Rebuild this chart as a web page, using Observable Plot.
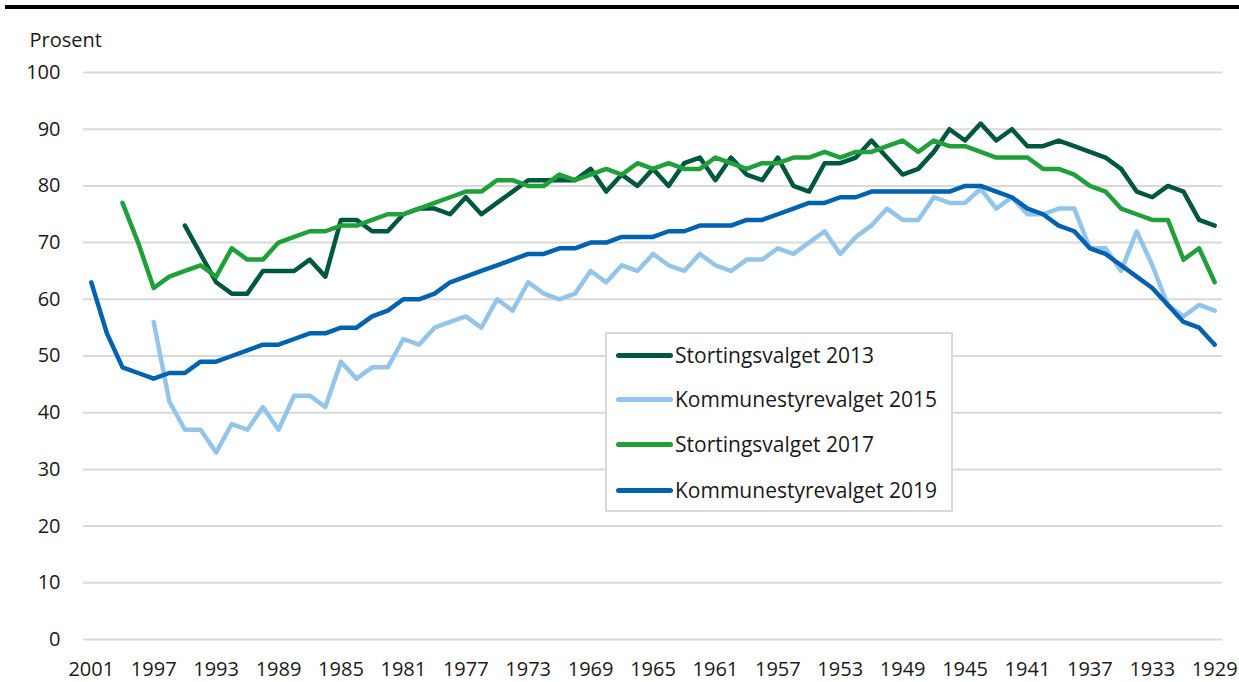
<!DOCTYPE html>
<html><head><meta charset="utf-8">
<script src="https://cdn.jsdelivr.net/npm/d3@7"></script>
<script src="https://cdn.jsdelivr.net/npm/@observablehq/plot@0.6"></script>
<style>
body{margin:0;background:#fff;font-family:"Open Sans",sans-serif;}
#wrap{position:relative;width:1239px;height:682px;overflow:hidden;background:#fff}
#topbar{position:absolute;left:5px;right:0;top:5px;height:4px;background:#000}
#legend{position:absolute;left:605px;top:332px;width:344px;height:176px;border:2px solid #d9d9d9;background:#fff;box-sizing:content-box}
.sw{position:absolute;left:9px;width:57px;height:5px;border-radius:3px}
.lab{position:absolute;left:68px;font-size:21px;color:#1a1a1a;white-space:nowrap;line-height:24px}
</style></head>
<body><div id="wrap"><div id="topbar"></div></div>
<script>
const years = [2001,2000,1999,1998,1997,1996,1995,1994,1993,1992,1991,1990,1989,1988,1987,1986,1985,1984,1983,1982,1981,1980,1979,1978,1977,1976,1975,1974,1973,1972,1971,1970,1969,1968,1967,1966,1965,1964,1963,1962,1961,1960,1959,1958,1957,1956,1955,1954,1953,1952,1951,1950,1949,1948,1947,1946,1945,1944,1943,1942,1941,1940,1939,1938,1937,1936,1935,1934,1933,1932,1931,1930,1929];
const xTicks = [2001,1997,1993,1989,1985,1981,1977,1973,1969,1965,1961,1957,1953,1949,1945,1941,1937,1933,1929];
const yTicks = [0,10,20,30,40,50,60,70,80,90,100];
const seriesNames = ["Stortingsvalget 2013","Kommunestyrevalget 2015","Stortingsvalget 2017","Kommunestyrevalget 2019"];
const colors = ["#00573f","#93c5eb","#1fa03a","#0062b0"];

const sv2013 = [null,null,null,null,null,null,73,68,63,61,61,65,65,65,67,64,74,74,72,72,75,76,76,75,78,75,77,79,81,81,81,81,83,79,82,80,83,80,84,85,81,85,82,81,85,80,79,84,84,85,88,85,82,83,86,90,88,91,88,90,87,87,88,87,86,85,83,79,78,80,79,74,73];
const kv2015 = [null,null,null,null,56,42,37,37,33,38,37,41,37,43,43,41,49,46,48,48,53,52,55,56,57,55,60,58,63,61,60,61,65,63,66,65,68,66,65,68,66,65,67,67,69,68,70,72,68,71,73,76,74,74,78,77,77,79.5,76,78,75,75,76,76,69,69,65,72,66,59,57,59,58];
const sv2017 = [null,null,77,70,62,64,65,66,64,69,67,67,70,71,72,72,73,73,74,75,75,76,77,78,79,79,81,81,80,80,82,81,82,83,82,84,83,84,83,83,85,84,83,84,84,85,85,86,85,86,86,87,88,86,88,87,87,86,85,85,85,83,83,82,80,79,76,75,74,74,67,69,63];
const kv2019 = [63,54,48,47,46,47,47,49,49,50,51,52,52,53,54,54,55,55,57,58,60,60,61,63,64,65,66,67,68,68,69,69,70,70,71,71,71,72,72,73,73,73,74,74,75,76,77,77,78,78,79,79,79,79,79,79,80,80,79,78,76,75,73,72,69,68,66,64,62,59,56,55,52];

const seriesValues = [sv2013, kv2015, sv2017, kv2019];
const rows = [];
seriesValues.forEach((vals, s) => {
  vals.forEach((v, i) => { if (v !== null) rows.push({series: seriesNames[s], year: years[i], value: v}); });
});

const chart = Plot.plot({
  width: 1239, height: 682,
  marginLeft: 83, marginRight: 17, marginTop: 72, marginBottom: 43,
  style: {fontSize: "20px", fontFamily: "'Open Sans', sans-serif", color: "#1a1a1a", background: "transparent", overflow: "visible"},
  x: {domain: [2001.5, 1928.5], label: null},
  y: {domain: [0, 100], label: null},
  color: {domain: seriesNames, range: colors},
  marks: [
    Plot.gridY(yTicks, {stroke: "#d9d9d9", strokeOpacity: 1, strokeWidth: 2}),
    Plot.axisY(yTicks, {tickSize: 0, tickPadding: 23, label: null, fontSize: 20}),
    Plot.axisX(xTicks, {tickSize: 0, tickPadding: 22, label: null, tickFormat: d => String(d), fontSize: 20}),
    Plot.text(["Prosent"], {text: d => d, frameAnchor: "top-left", dx: -54, dy: -40, textAnchor: "start", fontSize: 20}),
    Plot.line(rows, {x: "year", y: "value", z: "series", stroke: "series", strokeWidth: 4.5, strokeLinejoin: "round", strokeLinecap: "round"})
  ]
});
const wrap = document.getElementById("wrap");
chart.style.position = "absolute";
chart.style.left = "0px";
chart.style.top = "0px";
wrap.appendChild(chart);

const legend = document.createElement("div");
legend.id = "legend";
const centers = [21, 65, 110, 156];
seriesNames.forEach((name, i) => {
  const sw = document.createElement("div");
  sw.className = "sw";
  sw.style.top = (centers[i] - 2.5) + "px";
  sw.style.background = colors[i];
  legend.appendChild(sw);
  const lab = document.createElement("div");
  lab.className = "lab";
  lab.style.top = (centers[i] - 12) + "px";
  lab.textContent = name;
  legend.appendChild(lab);
});
wrap.appendChild(legend);
</script>
</body></html>
